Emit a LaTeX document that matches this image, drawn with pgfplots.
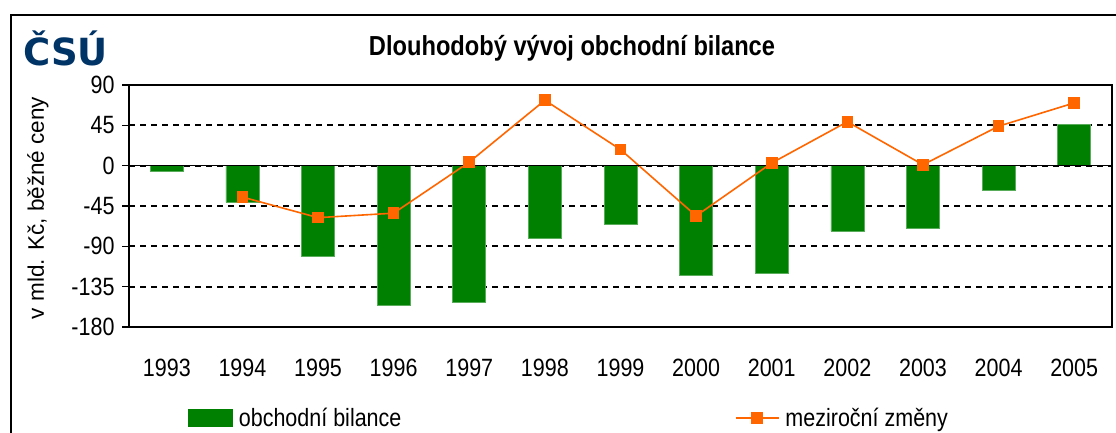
\documentclass[border=0pt]{standalone}
\usepackage{pgfplots}
\pgfplotsset{compat=1.18}
\usepackage{fontspec}
\setmainfont{Liberation Sans}[FakeStretch=0.86]
\newfontfamily\titlefont{Liberation Sans}[FakeStretch=0.86]
\newfontfamily\ylabfont{Liberation Sans}
\newfontfamily\logofont{DejaVu Sans}
\definecolor{barg}{RGB}{0,128,0}
\definecolor{lineo}{RGB}{255,102,0}
\definecolor{logob}{RGB}{0,51,102}
\pgfplotstableread{
x bal chg
0 -6 nan
1 -41 -35
2 -101 -58
3 -156 -53
4 -153 4
5 -81 73
6 -65 18
7 -122 -56
8 -120 3
9 -73 49
10 -70 1
11 -28 44
12 46 70
}\datatab
\begin{document}
\begin{tikzpicture}
\useasboundingbox (0pt,0pt) rectangle (1116pt,432pt);
% outer frame
\draw[line width=2.5pt,black] (11pt,-20pt) -- (11pt,417pt) -- (1140pt,417pt);
% logo
\node[anchor=west,inner sep=0pt,text=logob] at (23pt,384pt) {\scalebox{1.09}[1.1]{\fontsize{34}{34}\selectfont\logofont\bfseries ČSÚ}};
% title
\node[anchor=center,inner sep=0pt] at (572pt,384pt) {\fontsize{27.5}{27.5}\selectfont\titlefont\bfseries Dlouhodobý vývoj obchodní bilance};
% y label
\node[rotate=90,inner sep=0pt] at (38pt,224pt) {\fontsize{22.5}{22.5}\selectfont\ylabfont v mld. Kč, běžné ceny};
\begin{axis}[
  at={(129pt,105pt)}, anchor=south west,
  scale only axis, width=983pt, height=242pt,
  xmin=-0.5, xmax=12.5, ymin=-180, ymax=90,
  axis line style={line width=1.3pt},
  xtick={0,...,12},
  xticklabels={1993,1994,1995,1996,1997,1998,1999,2000,2001,2002,2003,2004,2005},
  x tick label style={font=\fontsize{25}{25}\selectfont, yshift=-22pt},
  xtick style={draw=none},
  ytick={-180,-135,-90,-45,0,45,90},
  yticklabels={-180,-135,-90,-45,0,45,90},
  y tick label style={font=\fontsize{25}{25}\selectfont, xshift=-4pt},
  ytick style={line width=1.3pt, black},
  tick align=outside, major tick length=7pt,
  ytick pos=left,
  ymajorgrids, grid style={black, line width=2pt, dash pattern=on 6pt off 5pt},
  legend columns=2,
  legend style={at={(0.06,-0.375)}, anchor=west, draw=none, fill=none,
    inner sep=0pt, font=\fontsize{25}{25}\selectfont,
    /tikz/every odd column/.append style={column sep=4pt},
    /tikz/every even column/.append style={column sep=0pt}},
  legend cell align=left,
]
\addplot[ybar, bar width=33pt, fill=barg, draw=barg!65!white, line width=0.7pt,
  legend image code/.code={\fill[barg] (0pt,-8.5pt) rectangle (44pt,8.5pt);}]
  table[x=x,y=bal] {\datatab};
\addlegendentry{\makebox[494pt][l]{obchodní bilance}}
\addplot[lineo, line width=1.6pt, mark=square*, mark size=5pt, mark options={fill=lineo, draw=lineo},
  unbounded coords=jump,
  legend image code/.code={\draw[lineo, line width=1.6pt] (0pt,0pt) -- (43pt,0pt); \fill[lineo] (16.5pt,-5pt) rectangle (26.5pt,5pt);}]
  table[x=x,y=chg] {\datatab};
\addlegendentry{meziroční změny}
\draw[line width=1.3pt] (axis cs:-0.5,0) -- (axis cs:12.5,0);
\pgfplotsinvokeforeach{0.5,1.5,...,11.5}{
  \draw[line width=1.3pt] (axis cs:#1,0) ++(0,-9pt) -- ++(0,18pt);
}
\end{axis}
\end{tikzpicture}
\end{document}
